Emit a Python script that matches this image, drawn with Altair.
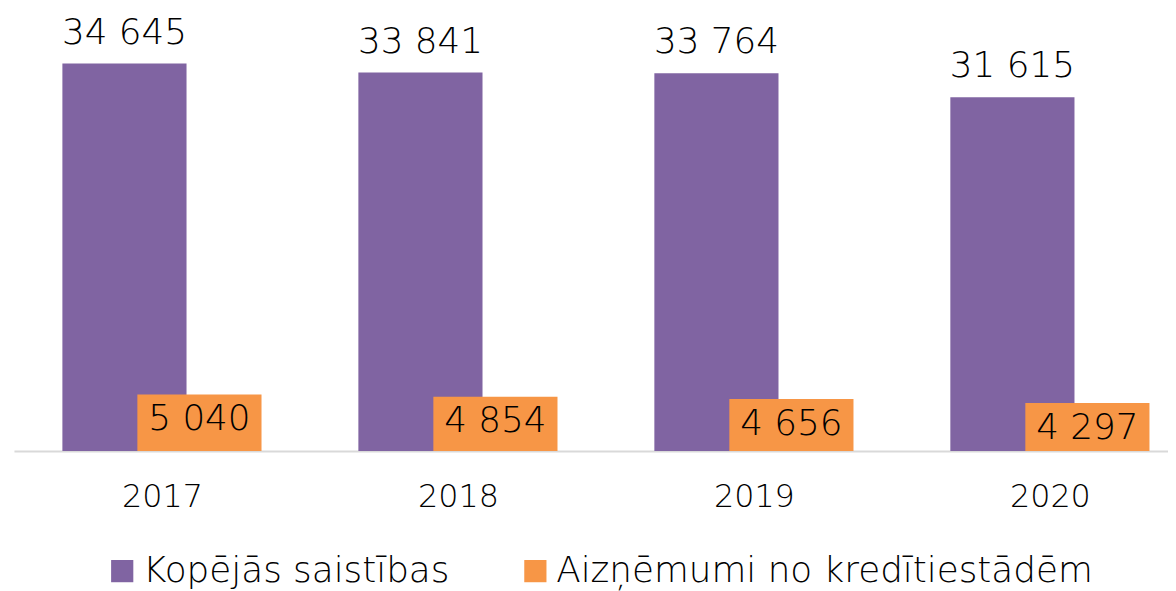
import altair as alt
import pandas as pd

years = [2017, 2018, 2019, 2020]
series_names = ["Kopējās saistības", "Aizņēmumi no kredītiestādēm"]
total_liabilities = [34645, 33841, 33764, 31615]
bank_loans = [5040, 4854, 4656, 4297]
colors = ["#8064A2", "#F79646"]

def fmt(v):
    return f"{v:,}".replace(",", " ")

df_a = pd.DataFrame({"year": years, "value": total_liabilities,
                     "series": series_names[0],
                     "label": [fmt(v) for v in total_liabilities]})
df_b = pd.DataFrame({"year": years, "value": bank_loans,
                     "series": series_names[1],
                     "label": [fmt(v) for v in bank_loans]})

FONT = "DejaVu Sans"

x = alt.X("year:Q",
          scale=alt.Scale(domain=[2016.5, 2020.399], nice=False, zero=False, padding=0),
          axis=alt.Axis(values=years, format="d", title=None, ticks=False, grid=False,
                        labelFontSize=32, labelFont=FONT, labelFontWeight=200,
                        labelColor="#000000",
                        labelPadding=31, domainColor="#D9D9D9", domainWidth=2,
                        labelFlush=False))
y = alt.Y("value:Q", scale=alt.Scale(domain=[0, 38000], nice=False, padding=0), axis=None)
color = alt.Color("series:N",
                  scale=alt.Scale(domain=series_names, range=colors),
                  legend=alt.Legend(title=None, orient="none", legendX=91, legendY=531,
                                    direction="horizontal", symbolType="square",
                                    symbolSize=500, symbolStrokeWidth=0,
                                    labelFontSize=36, labelFont=FONT, labelFontWeight=300,
                                    labelColor="#000000", columnPadding=68,
                                    labelOffset=3, padding=0, labelLimit=0))

bars_a = alt.Chart(df_a).mark_bar(width=125, xOffset=-37.75).encode(x=x, y=y, color=color)
bars_b = alt.Chart(df_b).mark_bar(width=125, xOffset=37.75).encode(x=x, y=y, color=color)

text_a = alt.Chart(df_a).mark_text(xOffset=-37.75, dy=-20, baseline="alphabetic",
                                   fontSize=36, font=FONT, fontWeight=300,
                                   color="#000000").encode(x=x, y=y, text="label:N")
text_b = alt.Chart(df_b).mark_text(xOffset=37.75, dy=36, baseline="alphabetic",
                                   fontSize=36, font=FONT, fontWeight=300,
                                   color="#000000").encode(x=x, y=y, text="label:N")

chart = alt.layer(bars_a, bars_b, text_a, text_b).properties(
    width=1162, height=428,
    autosize=alt.AutoSizeParams(type="none"),
    padding={"left": 6, "top": 16, "right": 0, "bottom": 140},
).configure_view(stroke=None)

chart.save("out.html", embed_options={"renderer": "svg", "actions": False})
